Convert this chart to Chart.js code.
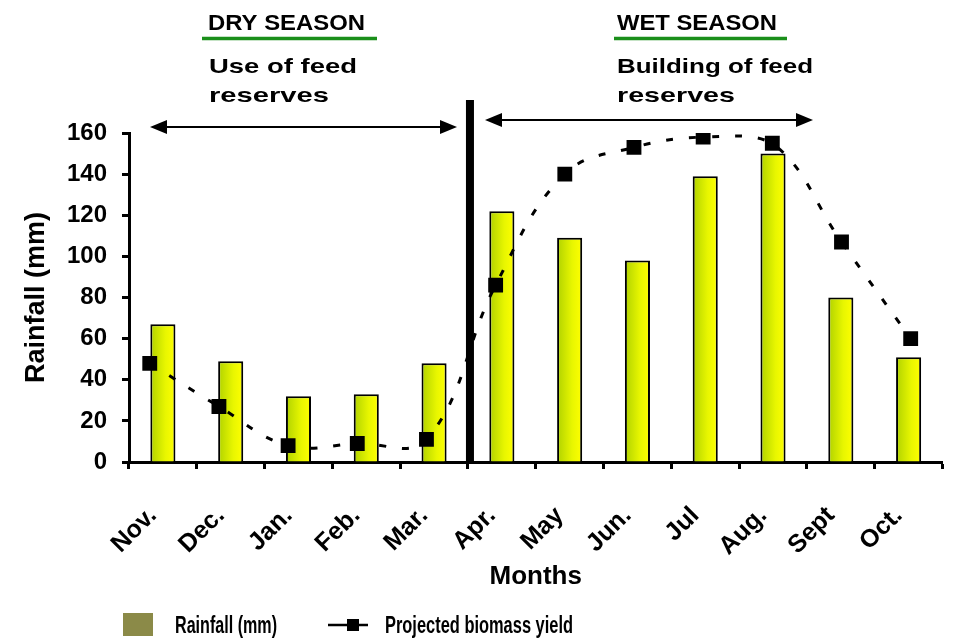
<!DOCTYPE html>
<html>
<head>
<meta charset="utf-8">
<script src="https://cdn.jsdelivr.net/npm/chart.js@4.4.0/dist/chart.umd.min.js"></script>
<style>
  html, body { margin: 0; padding: 0; background: #fff; }
  #wrap { width: 953px; height: 638px; }
</style>
</head>
<body>
<div id="wrap"><canvas id="chart-area1" width="953" height="638"></canvas></div>
<script>
// values
var months = ['Nov.', 'Dec.', 'Jan.', 'Feb.', 'Mar.', 'Apr.', 'May', 'Jun.', 'Jul', 'Aug.', 'Sept', 'Oct.'];
var rainfall = [67, 49, 32, 33, 48, 122, 109, 98, 139, 150, 80, 51];
var biomass = [48, 27, 8, 9, 11, 86, 140, 153, 158, 155, 107, 60];
var yMax = 160;
var yStep = 20;

var FONT = 'Arial, "Liberation Sans", sans-serif';

// text squeezed/stretched to the width it has in the picture
function fitText(ctx, txt, x, y, font, w) {
    ctx.save();
    ctx.font = font;
    ctx.textAlign = 'left';
    ctx.textBaseline = 'alphabetic';
    var m = ctx.measureText(txt).width;
    ctx.translate(x, y);
    ctx.scale(w / m, 1);
    ctx.fillStyle = '#000';
    ctx.fillText(txt, 0, 0);
    ctx.restore();
}

function arrow(ctx, x1, x2, y) {
    ctx.save();
    ctx.strokeStyle = '#000';
    ctx.fillStyle = '#000';
    ctx.lineWidth = 2;
    ctx.beginPath();
    ctx.moveTo(x1 + 10, y);
    ctx.lineTo(x2 - 10, y);
    ctx.stroke();
    ctx.beginPath();
    ctx.moveTo(x1, y);
    ctx.lineTo(x1 + 17, y - 7);
    ctx.lineTo(x1 + 17, y + 7);
    ctx.closePath();
    ctx.fill();
    ctx.beginPath();
    ctx.moveTo(x2, y);
    ctx.lineTo(x2 - 17, y - 7);
    ctx.lineTo(x2 - 17, y + 7);
    ctx.closePath();
    ctx.fill();
    ctx.restore();
}

var seasonPlugin = {
    id: 'seasons',
    afterDraw: function (chart) {
        var ctx = chart.ctx;
        var xs = chart.scales.x;
        var area = chart.chartArea;

        // thick divider between Mar. and Apr.
        var xd = xs.getPixelForValue(4.5) + 2;
        ctx.save();
        ctx.fillStyle = '#000';
        ctx.fillRect(xd - 4, 100, 8, area.bottom - 100);
        ctx.restore();

        arrow(ctx, 150, 457, 127);
        arrow(ctx, 485, 813, 120);

        // headings
        fitText(ctx, 'DRY SEASON', 208, 30, 'bold 22px ' + FONT, 157);
        fitText(ctx, 'WET SEASON', 617, 30, 'bold 22px ' + FONT, 160);
        ctx.save();
        ctx.strokeStyle = '#1a8f1a';
        ctx.lineWidth = 3.5;
        ctx.beginPath();
        ctx.moveTo(202, 38.5); ctx.lineTo(377, 38.5);
        ctx.moveTo(614, 38.5); ctx.lineTo(787, 38.5);
        ctx.stroke();
        ctx.restore();
        fitText(ctx, 'Use of feed', 209, 73, 'bold 21px ' + FONT, 148);
        fitText(ctx, 'reserves', 209, 102, 'bold 21px ' + FONT, 120);
        fitText(ctx, 'Building of feed', 617, 73, 'bold 21px ' + FONT, 196);
        fitText(ctx, 'reserves', 617, 102, 'bold 21px ' + FONT, 118);

        // legend
        ctx.save();
        ctx.fillStyle = '#8b8a48';
        ctx.fillRect(123, 613, 30, 23);
        ctx.strokeStyle = '#000';
        ctx.lineWidth = 2.5;
        ctx.beginPath();
        ctx.moveTo(328, 625); ctx.lineTo(368, 625);
        ctx.stroke();
        ctx.fillStyle = '#000';
        ctx.fillRect(347, 619, 12, 12);
        ctx.restore();
        fitText(ctx, 'Rainfall (mm)', 175, 633, 'bold 23px ' + FONT, 102);
        fitText(ctx, 'Projected biomass yield', 385, 633, 'bold 23px ' + FONT, 188);
    }
};

// greenish on the left edge, yellow on the right
function barFill(context) {
    var chart = context.chart;
    if (context.type !== 'data' || !chart.chartArea) return '#d8e800';
    var xs = chart.scales.x;
    var cx = xs.getPixelForValue(context.dataIndex);
    var half = xs.width / months.length * 0.37 / 2;
    var g = chart.ctx.createLinearGradient(cx - half, 0, cx + half, 0);
    g.addColorStop(0, '#b0d200');
    g.addColorStop(0.6, '#e8f600');
    g.addColorStop(1, '#ffff00');
    return g;
}

var config = {
    type: 'bar',
    data: {
        labels: months,
        datasets: [{
            type: 'line',
            label: 'Projected biomass yield',
            xAxisID: 'x2',
            data: biomass.map(function (v, i) { return { x: i, y: v }; }),
            borderColor: '#000',
            borderWidth: 3,
            borderDash: [7, 16],
            tension: 0.4,
            fill: false,
            pointStyle: 'rect',
            pointRadius: 10.5,
            pointBackgroundColor: '#000',
            pointBorderWidth: 0
        }, {
            type: 'bar',
            label: 'Rainfall (mm)',
            xAxisID: 'x',
            grouped: false,
            data: rainfall,
            backgroundColor: barFill,
            borderColor: '#000',
            borderWidth: 2,
            categoryPercentage: 1,
            barPercentage: 0.37
        }]
    },
    options: {
        responsive: false,
        animation: false,
        events: [],
        layout: { padding: { top: 133, right: 8, bottom: 46, left: 0 } },
        plugins: {
            legend: { display: false },
            tooltip: { enabled: false }
        },
        scales: {
            x: {
                type: 'category',
                offset: true,
                grid: {
                    offset: true,
                    drawOnChartArea: false,
                    drawTicks: true,
                    tickLength: 7,
                    tickWidth: 3,
                    tickColor: '#000'
                },
                border: { color: '#000', width: 3 },
                ticks: {
                    color: '#000',
                    font: { family: FONT, weight: 'bold', size: 25 },
                    minRotation: 45,
                    maxRotation: 45,
                    autoSkip: false,
                    padding: 32,
                    labelOffset: -10
                },
                title: {
                    display: true,
                    text: 'Months',
                    color: '#000',
                    font: { family: FONT, weight: 'bold', size: 26 },
                    padding: { top: 0, bottom: 0 }
                },
                afterFit: function (s) {
                    s.height = 130;
                    s.paddingLeft = 0;
                    s.paddingRight = 0;
                }
            },
            x2: {
                type: 'linear',
                display: false,
                offset: false,
                grid: { offset: false },
                min: -0.3,
                max: 11.46
            },
            y: {
                min: 0,
                max: yMax,
                ticks: {
                    stepSize: yStep,
                    color: '#000',
                    font: { family: FONT, weight: 'bold', size: 24 },
                    padding: 15
                },
                grid: {
                    drawOnChartArea: false,
                    drawTicks: true,
                    tickLength: 7,
                    tickWidth: 3,
                    tickColor: '#000'
                },
                border: { color: '#000', width: 3 },
                title: {
                    display: true,
                    text: 'Rainfall (mm)',
                    color: '#000',
                    font: { family: FONT, weight: 'bold', size: 27 },
                    padding: { top: 20, bottom: 0 }
                },
                afterFit: function (s) { s.width = 129; }
            }
        }
    },
    plugins: [seasonPlugin]
};

var ctx = document.getElementById('chart-area1').getContext('2d');
var myChart = new Chart(ctx, config);
</script>
</body>
</html>
